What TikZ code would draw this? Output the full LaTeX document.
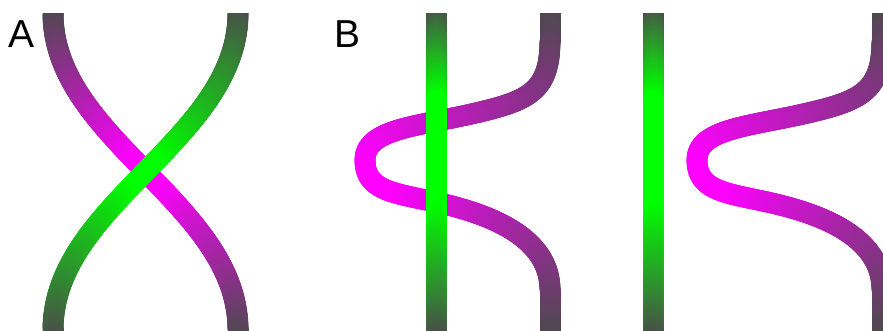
\documentclass[tikz,border=0pt]{standalone}
\usepackage{fontspec}
\setmainfont{Liberation Sans}
\usetikzlibrary{decorations.markings}
\definecolor{strandend}{HTML}{4B4B4B}
\definecolor{pbright}{HTML}{FF00FF}
\definecolor{gbright}{HTML}{00FF00}
\tikzset{
  strand/.style n args={3}{% #1 bright colour, #2 peak fraction, #3 scale
    decorate, decoration={markings,
      mark=between positions 0 and 1 step 1.5pt with {
        \pgfmathsetmacro\strfr{\pgfkeysvalueof{/pgf/decoration/mark info/distance from start}/\pgfdecoratedpathlength}
        \pgfmathsetmacro\strgp{min(100,100*#3*((\strfr<#2) ? (\strfr/#2) : ((1-\strfr)/(1-#2))))}
        \draw[line width=21pt, line cap=round, draw=#1!\strgp!strandend] (0pt,0pt) -- (0.5pt,0pt);
      }}
  },
  panellabel/.style={anchor=base west, inner sep=0pt, font=\fontsize{39}{39}\selectfont}
}
\begin{document}
\begin{tikzpicture}[x=1pt,y=-1pt]
\useasboundingbox (0,0) rectangle (883,330);
\begin{scope}
\clip (0,13) rectangle (883,345);
% Panel A
\path[strand={pbright}{0.5}{1.1}] (53,13) .. controls (53,140) and (238,203) .. (238,330) -- (238,345);
\path[strand={gbright}{0.5}{1.1}] (238,13) .. controls (238,140) and (53,203) .. (53,330) -- (53,345);
% Panel B, left
\path[strand={pbright}{0.53}{1.08}] (550,13) -- (550,40) .. controls (550,90) and (530,100) .. (480,112)
   .. controls (420,126.4) and (365,128) .. (365,160) .. controls (365,194) and (400,193) .. (448,205)
   .. controls (496,217) and (550,240) .. (550,290) -- (550,345);
\path[strand={gbright}{0.40}{1.5}] (436.5,13) -- (436.5,345);
% Panel B, right
\begin{scope}[xshift=332pt]
\path[strand={pbright}{0.53}{1.08}] (550,13) -- (550,40) .. controls (550,90) and (530,100) .. (480,112)
   .. controls (420,126.4) and (365,128) .. (365,160) .. controls (365,194) and (400,193) .. (448,205)
   .. controls (496,217) and (550,240) .. (550,290) -- (550,345);
\end{scope}
\path[strand={gbright}{0.40}{1.5}] (653.5,13) -- (653.5,345);
\end{scope}
% labels
\node[panellabel] (labA) at (8,47) {A};
\node[panellabel] (labB) at (334,47) {B};
\end{tikzpicture}
\end{document}
